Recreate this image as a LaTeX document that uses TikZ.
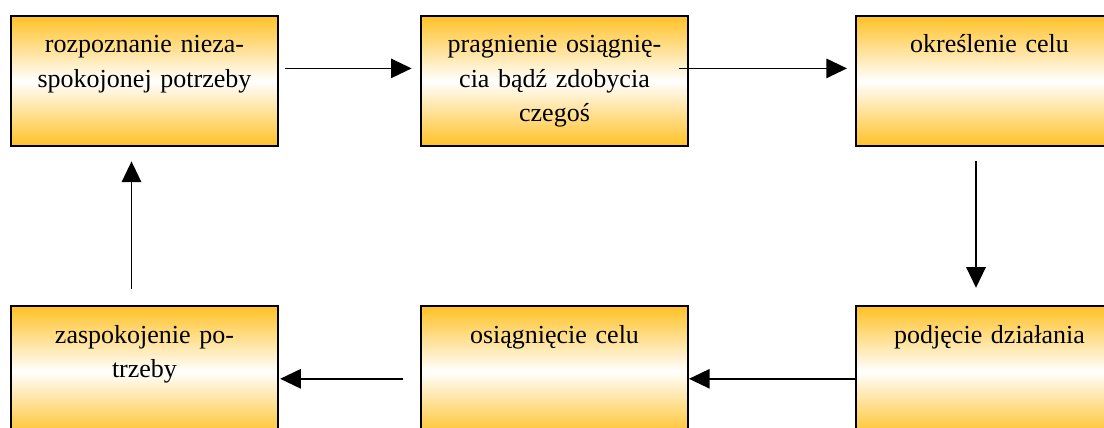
\documentclass[tikz,border=0pt]{standalone}
\usepackage{fontspec}
\setmainfont{Liberation Serif}
\usetikzlibrary{arrows.meta, positioning}
\definecolor{stagegold}{HTML}{FFC125}

\begin{document}
\begin{tikzpicture}[
    node distance=79.2pt and 70.5pt,
    stage/.style={draw=black, line width=1pt, top color=stagegold, bottom color=stagegold, middle color=white,
      text width=124pt, align=center, inner xsep=4.75pt, inner ysep=0pt,
      text height=18.3pt, text depth=46.7pt, font=\fontsize{13pt}{17.25pt}\selectfont},
    flow/.style={-{Triangle[length=10.3pt, width=9.7pt]}, line width=0.75pt}
  ]
    \useasboundingbox (-5pt,7.5pt) rectangle (547pt,-206.5pt);
    \clip (-5pt,7.5pt) rectangle (547pt,-206.5pt);

    \node[stage, anchor=north west] (need) at (0,0) {rozpoznanie nieza-\\spokojonej potrzeby};
    \node[stage, right=of need] (desire) {pragnienie osiągnię-\\cia bądź zdobycia\\czegoś};
    \node[stage, right=83pt of desire] (goal) {określenie celu};
    \node[stage, below=of goal] (action) {podjęcie działania};
    \node[stage, below=of desire] (result) {osiągnięcie celu};
    \node[stage, below=of need] (relief) {zaspokojenie po-\\trzeby};

    \draw[flow] ([xshift=3.2pt, yshift=6.3pt]need.east) -- ([xshift=-4.2pt, yshift=6.3pt]desire.west);
    \draw[flow] ([xshift=-4.8pt, yshift=6.3pt]desire.east) -- ([xshift=-4pt, yshift=6.3pt]goal.west);
    \draw[flow] ([xshift=-6.75pt, yshift=-6.8pt]goal.south) -- ([xshift=-6.75pt, yshift=8.8pt]action.north);
    \draw[flow] ([yshift=-3.7pt]action.west) -- ([yshift=-3.7pt]result.east);
    \draw[flow] ([xshift=-8.3pt, yshift=-3.7pt]result.west) -- ([xshift=0.6pt, yshift=-3.7pt]relief.east);
    \draw[flow] ([xshift=-6.5pt, yshift=8.3pt]relief.north) -- ([xshift=-6.5pt, yshift=-7.2pt]need.south);
  \end{tikzpicture}
\end{document}
